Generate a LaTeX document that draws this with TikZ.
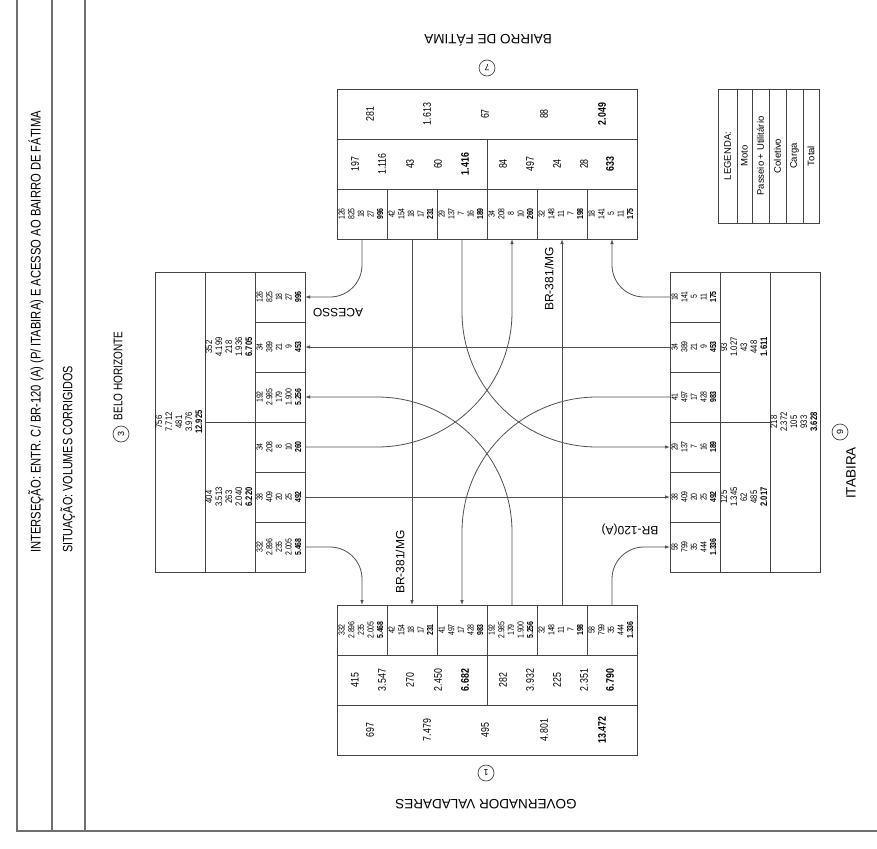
\documentclass[tikz,border=0pt]{standalone}
\usepackage{fontspec}
\usepackage{graphicx}
\setmainfont{Liberation Sans}
\newfontfamily\nar{Liberation Sans}[FakeStretch=0.8]
\usetikzlibrary{arrows.meta}
\definecolor{boxc}{HTML}{444444}
\definecolor{linec}{HTML}{505050}
\definecolor{framec}{HTML}{707070}
\newcommand{\stackfive}[7]{\rotatebox{90}{\nar\fontsize{#1}{#2}\selectfont\begin{tabular}{@{}c@{}}#3\\#4\\#5\\#6\\\textbf{#7}\end{tabular}}}
\newcommand{\cv}[5]{\stackfive{8.7}{9.6}{#1}{#2}{#3}{#4}{#5}}
\newcommand{\sv}[5]{\stackfive{9.5}{10}{#1}{#2}{#3}{#4}{#5}}
\begin{document}
\begin{tikzpicture}[x=1pt,y=-1pt,
  boxline/.style={draw=boxc, line width=0.8pt},
  cell/.style={draw=boxc, line width=0.8pt, minimum width=50pt, minimum height=50pt, inner sep=0pt, outer sep=0pt},
  rowv/.style={rotate=90, inner sep=0pt, font=\nar\fontsize{11}{13}\selectfont},
  stackv/.style={inner sep=0pt},
  lab/.style={inner sep=0pt, font=\fontsize{13.5}{16}\selectfont},
  labn/.style={inner sep=0pt, font=\nar\fontsize{12.5}{15}\selectfont},
  leg/.style={rotate=90, inner sep=0pt, font=\fontsize{9.5}{11}\selectfont},
  circ/.style={draw=boxc, line width=0.7pt, circle, minimum size=16pt, inner sep=0pt, font=\fontsize{9}{10}\selectfont},
  flowlab/.style={inner sep=0pt, font=\fontsize{12}{14}\selectfont},
  frame/.style={draw=framec, line width=1.3pt},
  flow/.style={draw=linec, line width=0.8pt},
  arr/.style={flow, -{Latex[length=5pt,width=3.5pt]}}]
\useasboundingbox (0,0) rectangle (877,848);
\fill[white] (0,0) rectangle (877,848);

% frame
\draw[frame] (17,0) -- (17,831) -- (877,831);
\draw[frame] (52,0) -- (52,831);
\draw[frame] (85,0) -- (85,831);
\node[inner sep=0pt, font=\nar\fontsize{14}{16}\selectfont, rotate=90, anchor=west] (title) at (36,553) {INTERSEÇÃO: ENTR. C/ BR-120 (A) (P/ ITABIRA) E ACESSO AO BAIRRO DE FÁTIMA};
\node[inner sep=0pt, font=\nar\fontsize{13.5}{16}\selectfont, rotate=90, anchor=west] (sit) at (68,553) {SITUAÇÃO: VOLUMES CORRIGIDOS};

% approach labels
\node[labn, rotate=90] (l3) at (118,376) {BELO HORIZONTE};
\node[circ, rotate=90] (c3) at (121,434) {3};
\node[lab, rotate=180] (l7) at (488,40) {BAIRRO DE FÁTIMA};
\node[circ, rotate=180] (c7) at (487,68) {7};
\node[lab, rotate=180] (l1) at (486,804) {GOVERNADOR VALADARES};
\node[circ, rotate=180] (c1) at (486,773) {1};
\node[lab, rotate=90] (l9) at (851,473) {ITABIRA};
\node[circ, rotate=90] (c9) at (840,432) {9};

% legend
\draw[boxline] (718,89) rectangle (819,223);
\foreach \x in {737,752,769,786,803} \draw[boxline] (\x,89) -- (\x,223);
\node[leg] (lg0) at (727.5,156) {LEGENDA:};
\node[leg] (lg1) at (744.5,156) {Moto};
\node[leg] (lg2) at (760.5,156) {Passeio + Utilitário};
\node[leg] (lg3) at (777.5,156) {Coletivo};
\node[leg] (lg4) at (794.5,156) {Carga};
\node[leg] (lg5) at (811,156) {Total};

% top box (7)
\draw[boxline] (337,89) rectangle (637,239);
\draw[boxline] (337,139) -- (637,139);
\draw[boxline] (337,189) -- (637,189);
\draw[boxline] (487,139) -- (487,189);
\foreach \x/\v [count=\i] in {370/281,427/1.613,485/67,544/88,602/{\textbf{2.049}}}
  \node[rowv] (ta\i) at (\x,114) {\v};
\foreach \x/\v [count=\i] in {355/197,382/1.116,410/43,438/60,465/{\textbf{1.416}},503/84,530/497,557/24,584/28,610/{\textbf{633}}}
  \node[rowv] (tb\i) at (\x,164) {\v};
\node[cell] (t1) at (362,214) {\cv{126}{825}{18}{27}{996}};
\node[cell] (t2) at (412,214) {\cv{42}{154}{18}{17}{231}};
\node[cell] (t3) at (462,214) {\cv{29}{137}{7}{16}{189}};
\node[cell] (t4) at (512,214) {\cv{34}{208}{8}{10}{260}};
\node[cell] (t5) at (562,214) {\cv{32}{148}{11}{7}{198}};
\node[cell] (t6) at (612,214) {\cv{18}{141}{5}{11}{175}};

% bottom box (1)
\draw[boxline] (337,605) rectangle (637,755);
\draw[boxline] (337,655) -- (637,655);
\draw[boxline] (337,705) -- (637,705);
\draw[boxline] (487,655) -- (487,705);
\foreach \x/\v [count=\i] in {355/415,382/3.547,410/270,438/2.450,465/{\textbf{6.682}},503/282,530/3.932,557/225,584/2.351,610/{\textbf{6.790}}}
  \node[rowv] (bb\i) at (\x,680) {\v};
\foreach \x/\v [count=\i] in {370/697,427/7.479,485/495,544/4.801,602/{\textbf{13.472}}}
  \node[rowv] (ba\i) at (\x,730) {\v};
\node[cell] (b1) at (362,630) {\cv{332}{2.896}{235}{2.005}{5.468}};
\node[cell] (b2) at (412,630) {\cv{42}{154}{18}{17}{231}};
\node[cell] (b3) at (462,630) {\cv{41}{497}{17}{428}{983}};
\node[cell] (b4) at (512,630) {\cv{192}{2.985}{179}{1.900}{5.256}};
\node[cell] (b5) at (562,630) {\cv{32}{148}{11}{7}{198}};
\node[cell] (b6) at (612,630) {\cv{58}{799}{35}{444}{1.336}};

% left box (3)
\draw[boxline] (155,272) rectangle (305,572);
\draw[boxline] (205,272) -- (205,572);
\draw[boxline] (255,272) -- (255,572);
\draw[boxline] (205,422) -- (255,422);
\node[stackv] (hs1) at (230,347) {\sv{352}{4.199}{218}{1.936}{6.705}};
\node[stackv] (hs2) at (230,497) {\sv{404}{3.513}{263}{2.040}{6.220}};
\node[stackv] (ht) at (180,422) {\sv{756}{7.712}{481}{3.976}{12.925}};
\node[cell] (h1) at (280,297) {\cv{126}{825}{18}{27}{996}};
\node[cell] (h2) at (280,347) {\cv{34}{389}{21}{9}{453}};
\node[cell] (h3) at (280,397) {\cv{192}{2.985}{179}{1.900}{5.256}};
\node[cell] (h4) at (280,447) {\cv{34}{208}{8}{10}{260}};
\node[cell] (h5) at (280,497) {\cv{38}{409}{20}{25}{492}};
\node[cell] (h6) at (280,547) {\cv{332}{2.896}{235}{2.005}{5.468}};

% right box (9)
\draw[boxline] (670,272) rectangle (820,572);
\draw[boxline] (720,272) -- (720,572);
\draw[boxline] (770,272) -- (770,572);
\draw[boxline] (720,422) -- (770,422);
\node[stackv] (is1) at (745,347) {\sv{93}{1.027}{43}{448}{1.611}};
\node[stackv] (is2) at (745,497) {\sv{125}{1.345}{62}{485}{2.017}};
\node[stackv] (it) at (795,422) {\sv{218}{2.372}{105}{933}{3.628}};
\node[cell] (i1) at (695,297) {\cv{18}{141}{5}{11}{175}};
\node[cell] (i2) at (695,347) {\cv{34}{389}{21}{9}{453}};
\node[cell] (i3) at (695,397) {\cv{41}{497}{17}{428}{983}};
\node[cell] (i4) at (695,447) {\cv{29}{137}{7}{16}{189}};
\node[cell] (i5) at (695,497) {\cv{38}{409}{20}{25}{492}};
\node[cell] (i6) at (695,547) {\cv{58}{799}{35}{444}{1.336}};

% connectors: corner turns
\draw[arr, rounded corners=32pt] (t1.south) |- (h1.east);
\draw[arr, rounded corners=32pt] (h6.east) -| (b1.north);
\draw[arr, rounded corners=32pt] (b6.north) |- (i6.west);
\draw[arr, rounded corners=32pt] (i1.west) -| (t6.south);
% straight through
\draw[arr] (t2.south) -- (b2.north);
\draw[arr] (b5.north) -- (t5.south);
\draw[arr] (i2.west) -- (h2.east);
\draw[arr] (h5.east) -- (i5.west);
% long curves
\draw[arr, rounded corners=135pt] (t3.south) |- (i4.west);
\draw[arr, rounded corners=135pt] (h4.east) -| (t4.south);
\draw[arr, rounded corners=135pt] (b4.north) |- (h3.east);
\draw[arr, rounded corners=135pt] (i3.west) -| (b3.north);

% flow labels
\node[flowlab, rotate=180] (acesso) at (338,313) {ACESSO};
\node[flowlab, rotate=90] (br381a) at (400,562) {BR-381/MG};
\node[flowlab, rotate=90] (br381b) at (549,279) {BR-381/MG};
\node[flowlab, rotate=180] (br120) at (630,530) {BR-120(A)};
\end{tikzpicture}
\end{document}
